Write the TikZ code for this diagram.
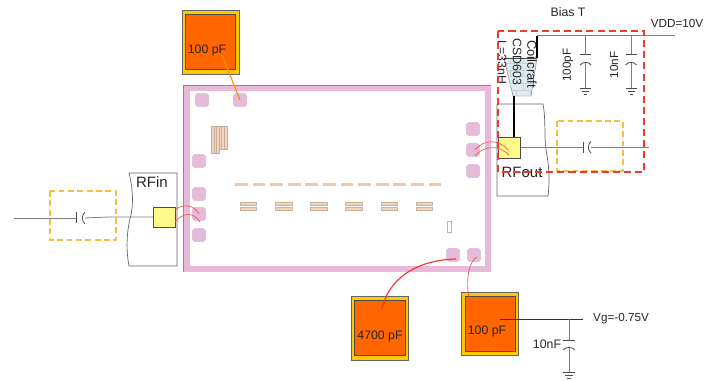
\documentclass[tikz,border=0pt]{standalone}
\usepackage{fontspec}
\setmainfont{Liberation Sans}
\usetikzlibrary{patterns}
\definecolor{chippink}{HTML}{E8B9D8}
\definecolor{padpink}{HTML}{E6BAD9}
\definecolor{combtan}{HTML}{F3D3C0}
\definecolor{capgold}{HTML}{FFC800}
\definecolor{capfill}{HTML}{FF6600}
\definecolor{wirered}{HTML}{EE5A50}
\definecolor{wireline}{HTML}{808080}
\definecolor{tapblue}{HTML}{DDEBF2}
\definecolor{boxred}{HTML}{EE3B2E}
\definecolor{boxgold}{HTML}{F5BE3C}
\tikzset{
  padbox/.style={draw=padpink!85!gray,fill=padpink,rounded corners=1.5pt,minimum size=11pt,inner sep=0pt},
  yellowpad/.style={draw=black!70,fill=yellow!45,inner sep=0pt},
  lbl/.style={inner sep=0pt,text=black!85,font=\fontsize{10.5}{12}\selectfont},
  biglbl/.style={inner sep=0pt,text=black!85,font=\fontsize{12.8}{14}\selectfont},
  wire/.style={draw=wireline,line width=0.7pt},
  bond/.style={draw=wirered,line width=0.6pt},
  plate/.style={draw=black!70,line width=0.7pt},
  redbox/.style={draw=boxred,line width=1.1pt,dash pattern=on 6pt off 3.5pt},
  goldbox/.style={draw=boxgold,line width=0.9pt,dash pattern=on 5pt off 3pt},
  comb/.style={draw=orange!45!black!40,fill=combtan,line width=0.2pt},
  bump/.style={draw=orange!50!black!40,fill=combtan,line width=0.25pt}
}
\begin{document}
\begin{tikzpicture}[x=0.03cm,y=0.03cm]
\useasboundingbox (0,0) rectangle (717,-380);
% chip frame
\fill [chippink] (183.5,-85) rectangle (490.5,-271.5);
\fill [white] (190,-91) rectangle (485,-266);
\draw [black!45,line width=0.5pt] (183.5,-271.5) -- (183.5,-85) -- (490.5,-85);
% pads
\foreach \i/\x/\y in {tl/202/100,tm/240/100,lu/199/161,la/199/194,lb/199/214,lc/199/235,ra/473/129,rb/473/150,rc/473/171,ba/453/255,bb/474/255}
  \node [padbox] (pad\i) at (\x,-\y) {};
% comb
\foreach \x in {211,213.7,216.4}
  \draw [comb] (\x,-126) rectangle ++(2.7,-27);
\foreach \x in {219,221.6,224.2}
  \draw [comb] (\x,-126) rectangle ++(2.6,-23);
% fingers
\foreach \i in {0,...,11}
  \fill [combtan!85!orange] (235+\i*17.6,-182.8) rectangle ++(12.7,-3);
\foreach \i in {0,...,5} {
  \draw [bump] (240+\i*35.2,-202.3) rectangle ++(16.5,-3);
  \draw [bump] (240+\i*35.2,-207.5) rectangle ++(16.5,-3);
}
\draw [bump,fill=white] (447.5,-220.7) rectangle (451,-232);
% capacitors on the chip
\node [draw=black!60,fill=capgold,minimum width=49pt,minimum height=54.5pt,inner sep=0pt] (captop) at (211,-42) {};
\node [draw=black!70,fill=capfill,minimum width=43pt,minimum height=46.5pt,inner sep=0pt] (captopin) at (210.5,-41.5) {};
\node [lbl] (captoplbl) at (207,-50) {100 pF};
\node [draw=black!60,fill=capgold,minimum width=49pt,minimum height=54pt,inner sep=0pt] (capleft) at (380,-328.3) {};
\node [draw=black!70,fill=capfill,minimum width=43pt,minimum height=47pt,inner sep=0pt] (capleftin) at (379.7,-328) {};
\node [lbl] (capleftlbl) at (380,-336) {4700 pF};
\node [draw=black!60,fill=capgold,minimum width=49pt,minimum height=54pt,inner sep=0pt] (capright) at (490,-323.8) {};
\node [draw=black!70,fill=capfill,minimum width=43pt,minimum height=47.5pt,inner sep=0pt] (caprightin) at (490,-323.7) {};
\node [lbl] (caprightlbl) at (487,-331) {100 pF};
\coordinate (wiretop) at (222,-55);
\draw [draw=orange!75!yellow!90!red,line width=1pt] (wiretop) -- (padtm.center);
\coordinate (wireleft) at (382,-309);
\draw [draw=boxred,line width=1pt] (wireleft) .. controls (388,-280) and (415,-260) .. (456,-259);
\coordinate (wireright) at (477,-310);
\draw [bond] (477,-257) .. controls (466,-262) and (463,-300) .. (wireright);
% RFin
\draw [draw=black!60,line width=0.6pt] (129,-173) -- (177,-173) -- (177,-266) -- (129,-266)
  .. controls (125,-245) and (128,-225) .. (131,-215) .. controls (134,-200) and (132,-185) .. (129,-173);
\node [biglbl] (rfin) at (152,-182) {RFin};
\draw [goldbox] (50,-191) rectangle (116,-240);
\node [yellowpad,minimum width=18.7pt,minimum height=17pt] (rfinpad) at (164,-217) {};
\coordinate (inl) at (14,-218);
\coordinate (inc) at (76.5,-218);
\coordinate (incb) at (85,-218);
\draw [wire] (inl) -- (inc);
\draw [wire] (incb) -- (109,-217) -- (rfinpad.west);
\draw [plate] (76.5,-212) -- (76.5,-223);
\draw [plate] (85,-212) .. controls (81.5,-215) and (81.5,-221) .. (85,-224);
\draw [bond] (175,-210) .. controls (183,-203) and (194,-205) .. (padlb.center);
\draw [bond] (175,-222) .. controls (183,-212) and (194,-212) .. (200,-222);
% RFout
\draw [draw=black!60,line width=0.6pt] (497,-104) -- (543,-104) .. controls (546,-120) and (544,-135) .. (546,-150)
  .. controls (549,-165) and (550,-180) .. (548,-196) -- (497,-196) -- cycle;
\draw [wire] (521,-147) -- (583,-147);
\draw [wire] (591,-147) -- (649,-147);
\draw [plate] (583,-142) -- (583,-153);
\draw [plate] (591,-141.5) .. controls (587.5,-144.5) and (587.5,-150) .. (591,-153);
\node [yellowpad,minimum width=18.7pt,minimum height=17.8pt] (rfoutpad) at (509,-147.5) {};
\node [biglbl] (rfout) at (522,-172) {RFout};
\draw [goldbox] (557,-121) rectangle (623,-171);
% inductor
\draw [draw=black!50,fill=tapblue] (504,-58) -- (537,-58) -- (531,-96) -- (513,-96) -- cycle;
\fill [pattern=bricks,pattern color=black!18] (504,-58) -- (537,-58) -- (531,-96) -- (513,-96) -- cycle;
\draw [black!70,line width=0.7pt] (504,-58) -- (537,-58);
\draw [black,line width=1.5pt] (514,-96) -- (rfoutpad.north -| 514,0);
\draw [black,line width=1.5pt] (537,-58) -- (537,-35.5);
\draw [wire] (537,-35.5) -- (675,-35.5);
\node [lbl,rotate=-90] (ltxt) at (502,-62.5) {L=33nH};
\node [lbl,rotate=-90] (cstxt) at (517,-62) {CSD603};
\node [lbl,rotate=-90,font=\fontsize{11}{12}\selectfont] (cotxt) at (532,-64) {Coilcraft};
\draw [redbox] (498,-31) rectangle (644,-172);
\draw [bond] (475,-150) .. controls (483,-140) and (498,-138) .. (508,-150);
\draw [bond] (475,-156) .. controls (483,-146) and (498,-144) .. (509,-155);
% shunt capacitors
\foreach \x/\t/\lx in {585.7/100pF/568,631/10nF/614} {
  \draw [wire] (\x,-35.5) -- (\x,-54.5);
  \draw [plate] (\x-5.5,-54.5) -- (\x+5.5,-54.5);
  \draw [plate] (\x-5.5,-65) .. controls (\x-3,-61.5) and (\x+3,-61.5) .. (\x+5.5,-65);
  \draw [wire] (\x,-62.5) -- (\x,-88);
  \draw [plate] (\x-5.5,-88) -- (\x+5.5,-88);
  \draw [plate] (\x-3.5,-91) -- (\x+3.5,-91);
  \draw [plate] (\x-1.5,-94) -- (\x+1.5,-94);
  \node [lbl,rotate=90,font=\fontsize{10}{12}\selectfont] (lbl\t) at (\lx,-65) {\t};
}
\node [lbl] (biast) at (568,-12) {Bias T};
\node [lbl,font=\fontsize{10}{12}\selectfont] (vdd) at (677,-23) {VDD=10V};
% gate bias
\coordinate (vgl) at (500,-319);
\coordinate (vgr) at (583,-319);
\draw [black!80,line width=0.6pt] (vgl) -- (vgr);
\node [lbl,anchor=west,font=\fontsize{10}{12}\selectfont] (vg) at (593,-318.5) {Vg=-0.75V};
\draw [wire] (569,-319) -- (569,-340);
\draw [plate] (563,-340) -- (575,-340);
\draw [plate] (563,-350) .. controls (566,-346.5) and (572,-346.5) .. (575,-350);
\draw [wire] (569,-347.5) -- (569,-372);
\draw [plate] (563,-372) -- (575,-372);
\draw [plate] (565,-375) -- (573,-375);
\draw [plate] (567,-378) -- (571,-378);
\node [lbl] (gatec) at (547,-344) {10nF};
\end{tikzpicture}
\end{document}
